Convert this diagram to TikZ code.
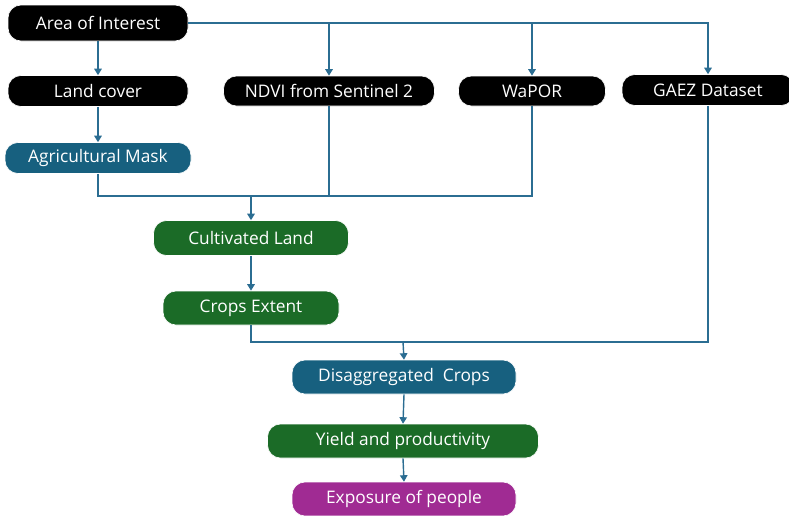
\documentclass[tikz,border=0pt]{standalone}
\usepackage{fontspec}
\setmainfont{Open Sans}
\usetikzlibrary{arrows.meta}
\definecolor{lineblue}{HTML}{2B6D92}
\definecolor{boxblue}{HTML}{17607F}
\definecolor{boxgreen}{HTML}{1B6B27}
\definecolor{boxpurple}{HTML}{A02B93}
\tikzset{
  box/.style={draw=white, line width=0.6pt, rounded corners=13pt, text=white, inner sep=0pt,
    font=\fontsize{17.3}{19}\selectfont},
  blackbox/.style={box, fill=black},
  bluebox/.style={box, fill=boxblue},
  greenbox/.style={box, fill=boxgreen},
  purplebox/.style={box, fill=boxpurple},
  conn/.style={draw=lineblue, line width=1.4pt},
  arr/.style={conn, -{Triangle[width=7.5pt,length=6.5pt]}},
}
\begin{document}
\begin{tikzpicture}[x=1pt,y=-1pt]
\useasboundingbox (0,0) rectangle (789,515);
\node[blackbox, minimum width=180pt, minimum height=36pt] (aoi) at (98,23) {Area of Interest};
\node[blackbox, minimum width=180pt, minimum height=31pt] (lc) at (98,91) {Land cover};
\node[bluebox, minimum width=186pt, minimum height=31pt] (agri) at (98,158) {Agricultural Mask};
\node[blackbox, minimum width=211pt, minimum height=30pt] (ndvi) at (329,91) {NDVI from Sentinel 2};
\node[blackbox, minimum width=147pt, minimum height=30pt] (wapor) at (532,91) {WaPOR};
\node[blackbox, minimum width=172pt, minimum height=31pt] (gaez) at (708,90) {GAEZ Dataset};
\node[greenbox, minimum width=195pt, minimum height=35pt] (cult) at (251,238) {Cultivated Land};
\node[greenbox, minimum width=176pt, minimum height=34pt] (crops) at (251,308) {Crops Extent};
\node[bluebox, minimum width=224pt, minimum height=34pt] (dis) at (404,377) {Disaggregated\ \ Crops};
\node[greenbox, minimum width=271pt, minimum height=34pt] (yield) at (403,441) {Yield and productivity};
\node[purplebox, minimum width=224pt, minimum height=34pt] (exp) at (404,499) {Exposure of people};
\coordinate (j1) at (251,196);
\coordinate (j2) at (403,342);
% top distribution
\draw[arr] (aoi.east) -| (gaez.north);
\draw[arr] (ndvi.north |- aoi.east) -- (ndvi.north);
\draw[arr] (wapor.north |- aoi.east) -- (wapor.north);
\draw[arr] (aoi.south) -- (lc.north);
\draw[arr] (lc.south) -- (agri.north);
% collector 1
\draw[conn] (agri.south) |- (j1);
\draw[conn] (ndvi.south) |- (j1);
\draw[conn] (wapor.south) |- (j1);
\draw[arr] (j1) -- (cult.north);
\draw[arr] (cult.south) -- (crops.north);
% collector 2
\draw[conn] (crops.south) |- (j2);
\draw[conn] (gaez.south) |- (j2);
\draw[arr] (j2) -- (dis.north);
\draw[arr] (dis.south) -- (yield.north);
\draw[arr] (yield.south) -- (exp.north);
\end{tikzpicture}
\end{document}
